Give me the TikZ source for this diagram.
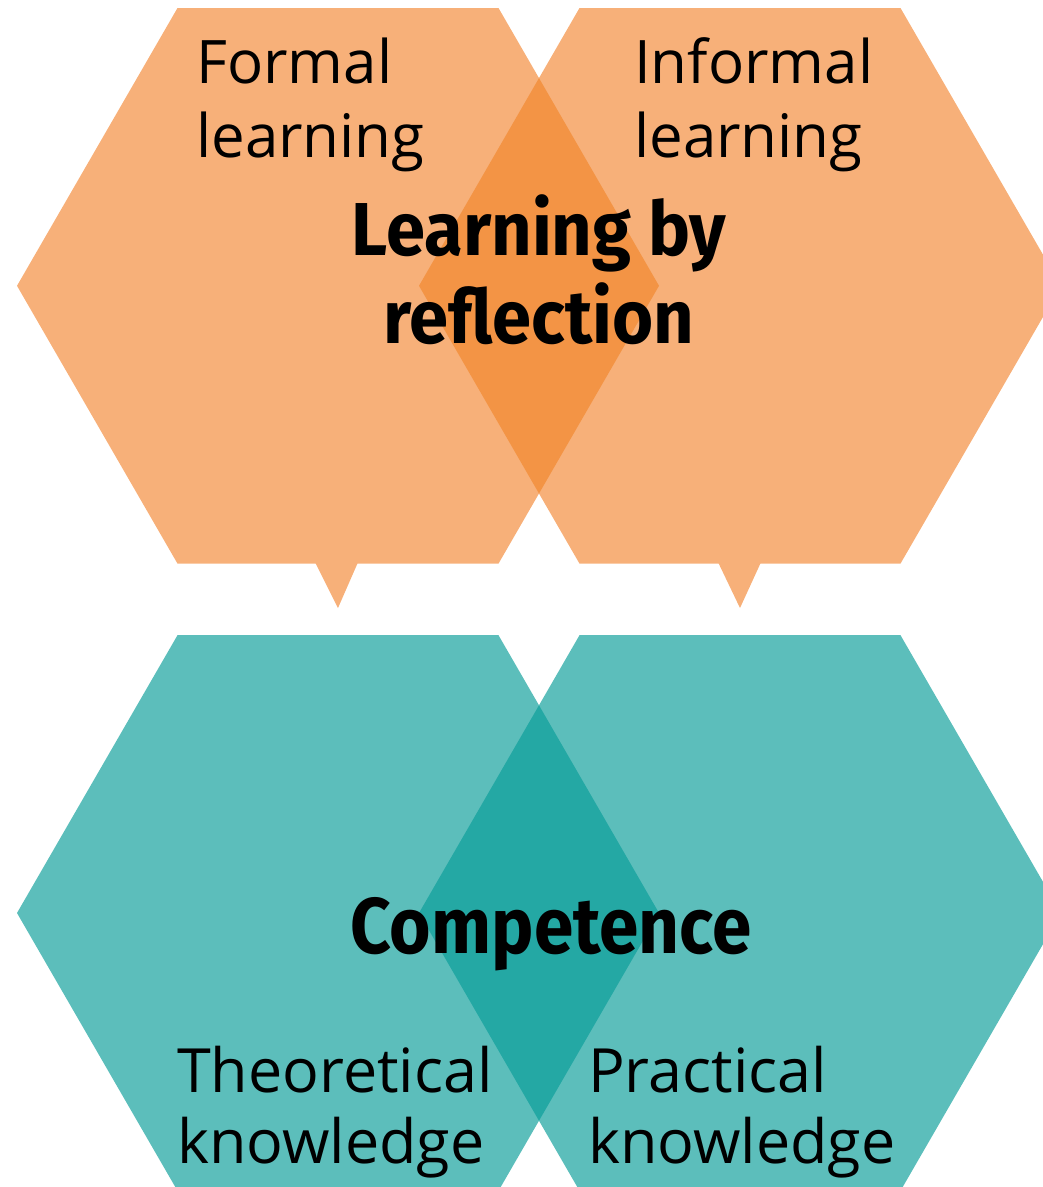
\documentclass[tikz,border=0pt]{standalone}
\usepackage{fontspec}
\setmainfont{Open Sans}
\newfontfamily\headfont{Fira Sans}[FakeStretch=0.94]
\newfontfamily\compfont{Fira Sans}[FakeStretch=0.90]
\definecolor{orangeL}{RGB}{247,176,121}
\definecolor{orangeD}{RGB}{243,148,69}
\definecolor{tealL}{RGB}{92,190,187}
\definecolor{tealD}{RGB}{36,168,164}
\newcommand\hexpath[2]{({#1-321},{#2}) -- ({#1-160.5},{#2-277.8}) -- ({#1+160.5},{#2-277.8}) -- ({#1+321},{#2}) -- ({#1+160.5},{#2+277.8}) -- ({#1-160.5},{#2+277.8}) -- cycle}
\tikzset{
  lab/.style={font=\fontsize{60}{74}\selectfont, anchor=base west, inner sep=0pt, align=left},
  labb/.style={lab, font=\fontsize{61}{71}\selectfont},
  head/.style={font=\headfont\bfseries\fontsize{75}{88}\selectfont, anchor=base, inner sep=0pt, align=center},
  comp/.style={font=\compfont\bfseries\fontsize{79}{88}\selectfont, anchor=base, inner sep=0pt},
}
\begin{document}
\begin{tikzpicture}[x=1pt,y=-1pt]
\useasboundingbox (0,0) rectangle (1043,1187);
\clip (0,0) rectangle (1043,1187);
% top hexagons
\fill[orangeL] \hexpath{338}{285.8};
\fill[orangeL] \hexpath{740}{285.8};
\begin{scope}
  \clip \hexpath{338}{285.8};
  \fill[orangeD] \hexpath{740}{285.8};
\end{scope}
% pointers
\fill[orangeL] (314,560) -- (359,560) -- (338,608) -- cycle;
\fill[orangeL] (717,560) -- (762,560) -- (740,608) -- cycle;
% bottom hexagons
\fill[tealL] \hexpath{338}{913};
\fill[tealL] \hexpath{740}{913};
\begin{scope}
  \clip \hexpath{338}{913};
  \fill[tealD] \hexpath{740}{913};
\end{scope}
% labels (base anchor = baseline of the last line)
\node[lab] (formal) at (196,157) {Formal\\learning};
\node[lab] (informal) at (634,157) {Informal\\learning};
\node[head] (reflection) at (539,343) {Learning by\\reflection};
\node[comp] (competence) at (551,953) {Competence};
\node[labb] (theoretical) at (177,1163) {Theoretical\\knowledge};
\node[labb] (practical) at (588,1163) {Practical\\knowledge};
\end{tikzpicture}
\end{document}
